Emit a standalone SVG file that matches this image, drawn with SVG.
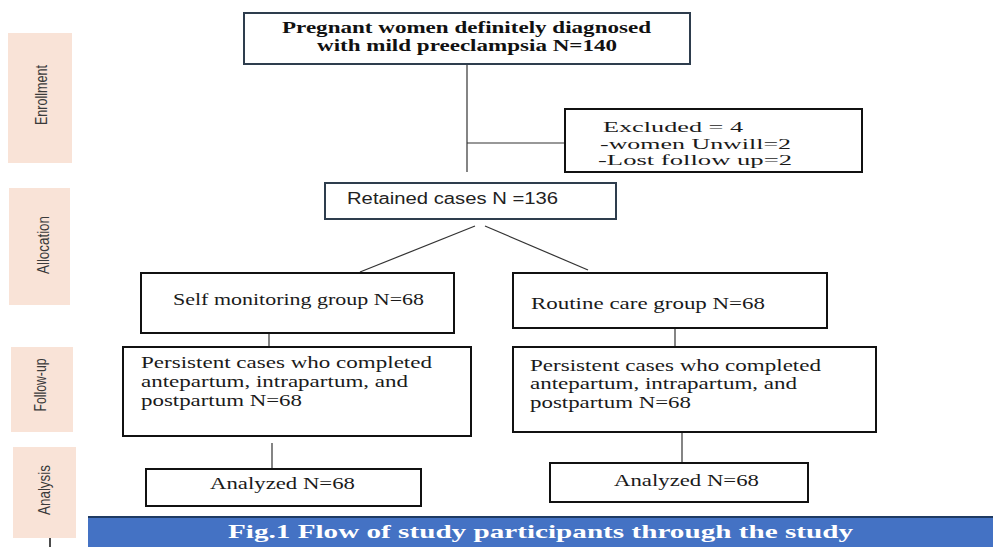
<svg xmlns="http://www.w3.org/2000/svg" width="993" height="547" viewBox="0 0 993 547">
<style>
.side{fill:#f9e3d7}
.sl{font-family:"Liberation Sans","Open Sans",sans-serif;font-size:17px;fill:#3a3a3a;text-anchor:middle}
.box{fill:#fff;stroke:#111;stroke-width:2}
.boxb{fill:#fff;stroke:#2e3d4d;stroke-width:2}
.t{font-family:"Liberation Serif","Times New Roman",serif;font-size:17px;fill:#1a1a1a}
.te{font-family:"Liberation Serif","Times New Roman",serif;font-size:15px;fill:#1a1a1a}
.tb{font-family:"Liberation Serif","Times New Roman",serif;font-size:17px;font-weight:bold;fill:#111}
.ts{font-family:"Liberation Sans","Open Sans",sans-serif;font-size:16px;fill:#222}
.cap{font-family:"Liberation Serif","Times New Roman",serif;font-size:19px;font-weight:bold;fill:#fff}
.c{stroke:#333;stroke-width:1.2;fill:none}
</style>
<g id="phases">
<rect class="side" x="8" y="33" width="64" height="130"/>
<text class="sl" transform="translate(47,95) rotate(-90)" textLength="60" lengthAdjust="spacingAndGlyphs">Enrollment</text>
<rect class="side" x="9" y="188" width="61" height="117"/>
<text class="sl" transform="translate(49,245) rotate(-90)" textLength="58" lengthAdjust="spacingAndGlyphs">Allocation</text>
<rect class="side" x="11" y="347" width="62" height="85"/>
<text class="sl" transform="translate(46,385) rotate(-90)" textLength="53" lengthAdjust="spacingAndGlyphs">Follow-up</text>
<rect class="side" x="13" y="447" width="63" height="91"/>
<text class="sl" transform="translate(50,490) rotate(-90)" textLength="50" lengthAdjust="spacingAndGlyphs">Analysis</text>
<line x1="50" y1="538" x2="50" y2="547" stroke="#111" stroke-width="1.5"/>
</g>
<g id="connectors">
<line class="c" x1="467" y1="64" x2="467" y2="172"/>
<line class="c" x1="467" y1="143" x2="565" y2="143"/>
<line class="c" x1="475" y1="226" x2="360" y2="272"/>
<line class="c" x1="485" y1="226" x2="588" y2="270"/>
<line class="c" x1="269" y1="333" x2="269" y2="347"/>
<line class="c" x1="675" y1="328" x2="675" y2="347"/>
<line class="c" x1="272" y1="443" x2="272" y2="469"/>
<line class="c" x1="682" y1="432" x2="682" y2="463"/>
</g>
<g id="enrolled">
<rect class="boxb" x="244" y="13" width="446" height="51"/>
<text class="tb" x="282" y="33" textLength="369" lengthAdjust="spacingAndGlyphs">Pregnant women definitely diagnosed</text>
<text class="tb" x="317" y="51" textLength="300" lengthAdjust="spacingAndGlyphs">with mild preeclampsia N=140</text>
</g>
<g id="excluded">
<rect class="box" x="565" y="109" width="297" height="63"/>
<text class="te" x="603" y="132" textLength="140" lengthAdjust="spacingAndGlyphs">Excluded = 4</text>
<text class="te" x="600" y="149" textLength="191" lengthAdjust="spacingAndGlyphs">-women Unwill=2</text>
<text class="te" x="598" y="165" textLength="194" lengthAdjust="spacingAndGlyphs">-Lost follow up=2</text>
</g>
<g id="retained">
<rect class="boxb" x="325" y="183" width="291" height="36"/>
<text class="ts" x="347" y="204" textLength="211" lengthAdjust="spacingAndGlyphs">Retained cases N =136</text>
</g>
<g id="self">
<rect class="box" x="141" y="273" width="313" height="60"/>
<text class="t" x="173" y="305" textLength="251" lengthAdjust="spacingAndGlyphs">Self monitoring  group N=68</text>
</g>
<g id="routine">
<rect class="box" x="513" y="273" width="314" height="55"/>
<text class="t" x="531" y="309" textLength="234" lengthAdjust="spacingAndGlyphs">Routine care group N=68</text>
</g>
<g id="persist-left">
<rect class="box" x="123" y="347" width="348" height="89"/>
<text class="t" x="141" y="368" textLength="291" lengthAdjust="spacingAndGlyphs">Persistent cases who completed</text>
<text class="t" x="141" y="387" textLength="267" lengthAdjust="spacingAndGlyphs">antepartum, intrapartum, and</text>
<text class="t" x="141" y="406" textLength="161" lengthAdjust="spacingAndGlyphs">postpartum N=68</text>
</g>
<g id="persist-right">
<rect class="box" x="513" y="347" width="363" height="85"/>
<text class="t" x="530" y="371" textLength="291" lengthAdjust="spacingAndGlyphs">Persistent cases who completed</text>
<text class="t" x="530" y="389" textLength="267" lengthAdjust="spacingAndGlyphs">antepartum, intrapartum, and</text>
<text class="t" x="530" y="408" textLength="161" lengthAdjust="spacingAndGlyphs">postpartum N=68</text>
</g>
<g id="analyzed-left">
<rect class="box" x="146" y="469" width="275" height="37"/>
<text class="t" x="210" y="489" textLength="145" lengthAdjust="spacingAndGlyphs">Analyzed N=68</text>
</g>
<g id="analyzed-right">
<rect class="box" x="550" y="463" width="258" height="39"/>
<text class="t" x="614" y="486" textLength="145" lengthAdjust="spacingAndGlyphs">Analyzed N=68</text>
</g>
<g id="caption">
<rect x="88" y="517" width="905" height="31" fill="#4472c4"/>
<line x1="88" y1="517" x2="993" y2="517" stroke="#1f3b63" stroke-width="2"/>
<text class="cap" x="228" y="538" textLength="625" lengthAdjust="spacingAndGlyphs">Fig.1 Flow of study participants through the study</text>
</g>
</svg>
